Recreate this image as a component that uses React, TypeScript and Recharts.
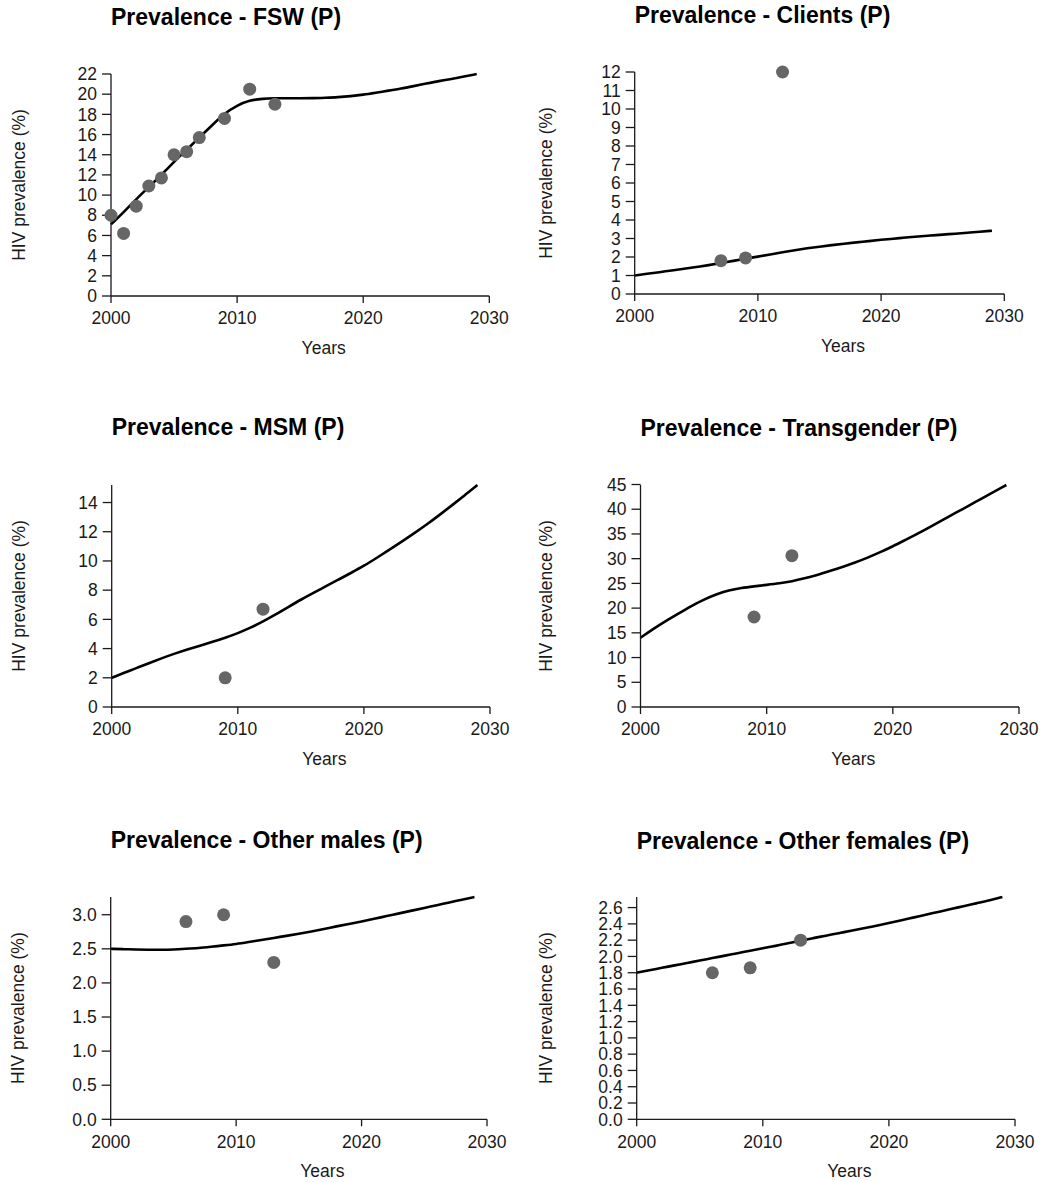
import React from 'react';
import { ComposedChart, Line, Scatter, XAxis, YAxis, Label } from 'recharts';

const FONT = '"Liberation Sans", Arial, Helvetica, sans-serif';

// model years shared by every panel
const years = [
  2000, 2001, 2002, 2003, 2004, 2005, 2006, 2007, 2008, 2009,
  2010, 2011, 2012, 2013, 2014, 2015, 2016, 2017, 2018, 2019,
  2020, 2021, 2022, 2023, 2024, 2025, 2026, 2027, 2028, 2029,
];
const xTicks = [2000, 2010, 2020, 2030];

// FSW
const fswModel = [
  7.1, 8.3, 9.6, 10.8, 12.0, 13.3, 14.5, 15.7, 16.9, 18.1,
  18.9, 19.4, 19.55, 19.6, 19.6, 19.6, 19.6, 19.65, 19.7, 19.8,
  19.95, 20.15, 20.35, 20.55, 20.8, 21.05, 21.3, 21.5, 21.75, 22.0,
];
const fswObsYears = [2000, 2001, 2002, 2003, 2004, 2005, 2006, 2007, 2009, 2011, 2013];
const fswObs = [8.0, 6.2, 8.9, 10.9, 11.7, 14.0, 14.3, 15.7, 17.6, 20.5, 19.0];
const fswTicks = [0, 2, 4, 6, 8, 10, 12, 14, 16, 18, 20, 22];

// Clients
const clientsModel = [
  1.0, 1.09, 1.18, 1.27, 1.36, 1.46, 1.56, 1.67, 1.79, 1.91,
  2.02, 2.14, 2.26, 2.37, 2.47, 2.56, 2.64, 2.72, 2.79, 2.86,
  2.93, 2.99, 3.05, 3.11, 3.16, 3.21, 3.26, 3.31, 3.36, 3.42,
];
const clientsObsYears = [2007, 2009, 2012];
const clientsObs = [1.8, 1.95, 12.0];
const clientsTicks = [0, 1, 2, 3, 4, 5, 6, 7, 8, 9, 10, 11, 12];

// MSM
const msmModel = [
  2.0, 2.34, 2.68, 3.02, 3.35, 3.66, 3.94, 4.2, 4.46, 4.74,
  5.05, 5.42, 5.85, 6.33, 6.84, 7.35, 7.82, 8.27, 8.73, 9.19,
  9.66, 10.2, 10.75, 11.32, 11.9, 12.5, 13.15, 13.82, 14.5, 15.2,
];
const msmObsYears = [2009, 2012];
const msmObs = [2.0, 6.7];
const msmTicks = [0, 2, 4, 6, 8, 10, 12, 14];

// Transgender
const tgModel = [
  14.0, 15.8, 17.4, 18.9, 20.4, 21.7, 22.8, 23.6, 24.1, 24.4,
  24.7, 25.0, 25.4, 26.0, 26.7, 27.5, 28.3, 29.2, 30.2, 31.3,
  32.5, 33.8, 35.1, 36.5, 37.9, 39.3, 40.7, 42.1, 43.5, 44.9,
];
const tgObsYears = [2009, 2012];
const tgObs = [18.2, 30.6];
const tgTicks = [0, 5, 10, 15, 20, 25, 30, 35, 40, 45];

// Other males
const malesModel = [
  2.5, 2.495, 2.49, 2.487, 2.487, 2.49, 2.5, 2.51, 2.53, 2.55,
  2.57, 2.6, 2.63, 2.66, 2.69, 2.72, 2.755, 2.79, 2.83, 2.865,
  2.9, 2.94, 2.98, 3.02, 3.06, 3.1, 3.14, 3.18, 3.22, 3.26,
];
const malesObsYears = [2006, 2009, 2013];
const malesObs = [2.9, 3.0, 2.3];
const malesTicks = [0, 0.5, 1.0, 1.5, 2.0, 2.5, 3.0];

// Other females
const femalesModel = [
  1.8, 1.83, 1.86, 1.89, 1.92, 1.95, 1.98, 2.01, 2.04, 2.07,
  2.1, 2.13, 2.16, 2.195, 2.225, 2.255, 2.285, 2.315, 2.345, 2.378,
  2.41, 2.445, 2.48, 2.515, 2.55, 2.585, 2.62, 2.655, 2.69, 2.73,
];
const femalesObsYears = [2006, 2009, 2013];
const femalesObs = [1.8, 1.86, 2.2];
const femalesTicks = [0, 0.2, 0.4, 0.6, 0.8, 1.0, 1.2, 1.4, 1.6, 1.8, 2.0, 2.2, 2.4, 2.6];

const panels = [
  {
    title: 'Prevalence - FSW (P)', model: fswModel, obsYears: fswObsYears, obs: fswObs, yTicks: fswTicks, decimals: 0,
    box: { x: 0, y: 0, w: 520, h: 400 }, plot: { left: 111, right: 489.3, top: 74, bottom: 296 }, titleY: 25, labelX: 18.5,
  },
  {
    title: 'Prevalence - Clients (P)', model: clientsModel, obsYears: clientsObsYears, obs: clientsObs, yTicks: clientsTicks, decimals: 0,
    box: { x: 520, y: 0, w: 521, h: 400 }, plot: { left: 634.7, right: 1004.3, top: 72, bottom: 294 }, titleY: 23, labelX: 26,
  },
  {
    title: 'Prevalence - MSM (P)', model: msmModel, obsYears: msmObsYears, obs: msmObs, yTicks: msmTicks, decimals: 0,
    box: { x: 0, y: 400, w: 520, h: 410 }, plot: { left: 111.7, right: 490, top: 485, bottom: 707 }, titleY: 435, labelX: 18.5,
  },
  {
    title: 'Prevalence - Transgender (P)', model: tgModel, obsYears: tgObsYears, obs: tgObs, yTicks: tgTicks, decimals: 0,
    box: { x: 520, y: 400, w: 521, h: 410 }, plot: { left: 640.5, right: 1019, top: 485, bottom: 707 }, titleY: 436, labelX: 26,
  },
  {
    title: 'Prevalence - Other males (P)', model: malesModel, obsYears: malesObsYears, obs: malesObs, yTicks: malesTicks, decimals: 1,
    box: { x: 0, y: 810, w: 520, h: 372 }, plot: { left: 110.7, right: 487, top: 897, bottom: 1119.3 }, titleY: 848, labelX: 18.5,
  },
  {
    title: 'Prevalence - Other females (P)', model: femalesModel, obsYears: femalesObsYears, obs: femalesObs, yTicks: femalesTicks, decimals: 1,
    box: { x: 520, y: 810, w: 521, h: 372 }, plot: { left: 636.7, right: 1015, top: 897, bottom: 1119.3 }, titleY: 849, labelX: 26,
  },
];

const Y_W = 60;
const X_H = 60;
const axisStroke = { stroke: '#1a1a1a', strokeWidth: 1.3 };
const tickStyle = { fontSize: 17.5, fill: '#1a1a1a', fontFamily: FONT };

const dotShape = (props: any) => (
  <circle cx={props.cx} cy={props.cy} r={6.5} fill="#666666" />
);

function Panel({ p }: { p: any }) {
  const lineData = years.map((year, i) => ({ year, value: p.model[i] }));
  const pointData = p.obsYears.map((year: number, i: number) => ({ year, value: p.obs[i] }));
  const yMax = Math.max(...p.model, ...p.obs);
  const margin = {
    top: p.plot.top - p.box.y,
    left: p.plot.left - p.box.x - Y_W,
    right: p.box.x + p.box.w - p.plot.right,
    bottom: p.box.y + p.box.h - p.plot.bottom - X_H,
  };

  const renderYears = (props: any) => {
    const vb = props.viewBox;
    return (
      <text x={vb.x + vb.width / 2 + 23.5} y={vb.y + 58} textAnchor="middle"
        fontSize={17.5} fontFamily={FONT} fill="#1a1a1a">Years</text>
    );
  };
  const renderYLabel = (props: any) => {
    const vb = props.viewBox;
    const cy = vb.y + vb.height / 2;
    return (
      <text x={p.labelX} y={cy} transform={`rotate(-90, ${p.labelX}, ${cy})`} textAnchor="middle"
        dominantBaseline="central" fontSize={17.5} fontFamily={FONT} fill="#1a1a1a">HIV prevalence (%)</text>
    );
  };

  return (
    <div style={{ position: 'absolute', left: p.box.x, top: p.box.y }}>
      <ComposedChart width={p.box.w} height={p.box.h} margin={margin}>
        <XAxis dataKey="year" type="number" domain={[2000, 2030]} ticks={xTicks} interval={0}
          height={X_H} tickSize={7} tickMargin={9} axisLine={axisStroke} tickLine={axisStroke} tick={tickStyle}>
          <Label content={renderYears} />
        </XAxis>
        <YAxis type="number" domain={[0, yMax]} ticks={p.yTicks} interval={0} width={Y_W}
          tickSize={9} tickMargin={5} axisLine={axisStroke} tickLine={axisStroke} tick={tickStyle}
          tickFormatter={(v: number) => v.toFixed(p.decimals)}>
          <Label content={renderYLabel} />
        </YAxis>
        <Line data={lineData} dataKey="value" type="basis" stroke="#000" strokeWidth={2.6}
          dot={false} activeDot={false} isAnimationActive={false} />
        <Scatter data={pointData} dataKey="value" shape={dotShape} isAnimationActive={false} />
      </ComposedChart>
    </div>
  );
}

export default function App() {
  return (
    <div style={{ position: 'absolute', left: 0, top: 0, width: 1041, height: 1182, background: '#fff' }}>
      {panels.map((p) => <Panel key={p.title} p={p} />)}
      <svg width={1041} height={1182} style={{ position: 'absolute', left: 0, top: 0, pointerEvents: 'none' }}>
        {panels.map((p) => (
          <text key={p.title} x={p.plot.left} y={p.titleY} fontSize={23} fontWeight="bold" fontFamily={FONT} fill="#000">
            {p.title}
          </text>
        ))}
      </svg>
    </div>
  );
}
